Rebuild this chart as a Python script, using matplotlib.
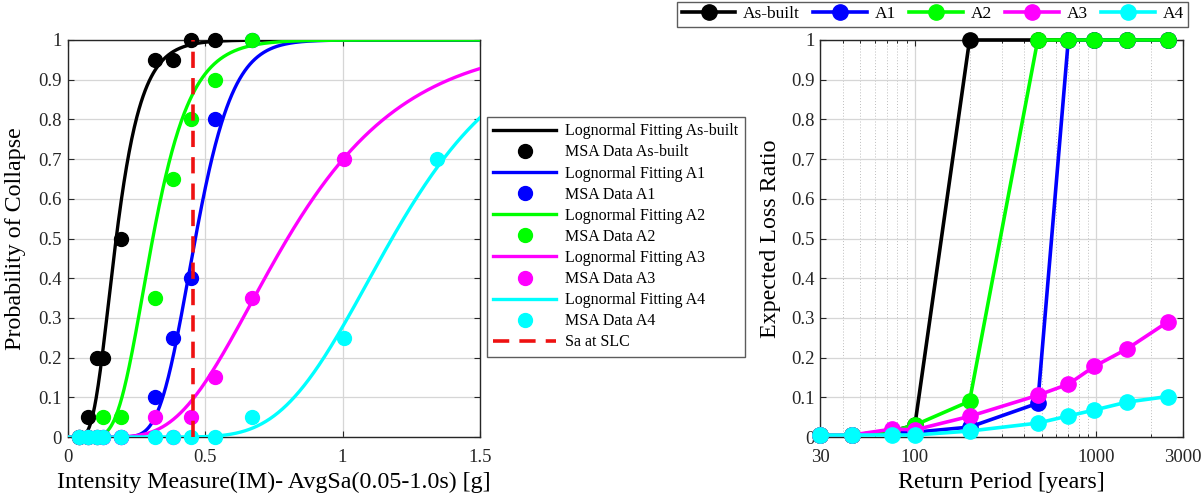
import math
import numpy as np
import matplotlib
matplotlib.use("Agg")
import matplotlib.pyplot as plt
from matplotlib.ticker import FixedLocator, FixedFormatter, NullFormatter

plt.rcParams['font.family'] = ['Liberation Serif', 'DejaVu Serif']

# ---------------- Data: left panel (fragility) ----------------
series_names = ["As-built", "A1", "A2", "A3", "A4"]
series_colors = ["#000000", "#0000ff", "#00ff00", "#ff00ff", "#00ffff"]

im_levels = [0.04, 0.075, 0.108, 0.13, 0.195, 0.318, 0.385, 0.45, 0.535, 0.67, 1.005, 1.343]
nan = float("nan")
msa_asbuilt = [0, 0.05, 0.2, 0.2, 0.5, 0.95, 0.95, 1.0, 1.0, nan, nan, nan]
msa_a1 = [0, 0, 0, 0, 0, 0.1, 0.25, 0.4, 0.8, 1.0, nan, nan]
msa_a2 = [0, 0, 0, 0.05, 0.05, 0.35, 0.65, 0.8, 0.9, 1.0, nan, nan]
msa_a3 = [0, 0, 0, 0, 0, 0.05, 0, 0.05, 0.15, 0.35, 0.7, nan]
msa_a4 = [0, 0, 0, 0, 0, 0, 0, 0, 0, 0.05, 0.25, 0.7]
msa_data = [msa_asbuilt, msa_a1, msa_a2, msa_a3, msa_a4]

fit_median = [0.177, 0.465, 0.31, 0.80, 1.18]
fit_beta = [0.41, 0.23, 0.35, 0.43, 0.28]

sa_slc = 0.455

# ---------------- Data: right panel (loss ratio) ----------------
return_periods = [30, 45, 75, 100, 200, 475, 700, 975, 1475, 2475]
elr_asbuilt = [0.005, 0.005, 0.015, 0.03, 1.0, 1.0, 1.0, 1.0, 1.0, 1.0]
elr_a1 = [0.005, 0.005, 0.012, 0.012, 0.025, 0.085, 1.0, 1.0, 1.0, 1.0]
elr_a2 = [0.005, 0.005, 0.015, 0.03, 0.09, 1.0, 1.0, 1.0, 1.0, 1.0]
elr_a3 = [0.005, 0.005, 0.02, 0.018, 0.052, 0.105, 0.133, 0.178, 0.222, 0.29]
elr_a4 = [0.005, 0.005, 0.005, 0.005, 0.015, 0.035, 0.053, 0.068, 0.088, 0.102]
elr_data = [elr_asbuilt, elr_a1, elr_a2, elr_a3, elr_a4]

x_ticks_left = [0, 0.5, 1, 1.5]
x_tick_labels_left = ["0", "0.5", "1", "1.5"]
y_ticks = [round(0.1 * i, 1) for i in range(11)]
y_tick_labels = ["0", "0.1", "0.2", "0.3", "0.4", "0.5", "0.6", "0.7", "0.8", "0.9", "1"]
x_ticks_right = [30, 100, 1000, 3000]
x_tick_labels_right = ["30", "100", "1000", "3000"]

# ---------------- Figure ----------------
W, H = 1201, 499
fig = plt.figure(figsize=(W / 100, H / 100), dpi=100)

def ax_rect(x0, y0, x1, y1):
    return [x0 / W, 1 - y1 / H, (x1 - x0) / W, (y1 - y0) / H]

grid_col = "#d6d6d6"
tick_fs = 13.5
label_fs = 17.3
leg_fs = 11.5

def lognorm_cdf(x, theta, beta):
    return np.array([0.5 * (1 + math.erf(math.log(v / theta) / (beta * math.sqrt(2)))) for v in x])

def style_axes(ax):
    ax.tick_params(direction="in", top=True, right=True, length=4, width=0.8,
                   labelsize=tick_fs, colors="#262626", pad=4)
    ax.tick_params(axis="x", pad=9)
    ax.tick_params(which="minor", direction="in", top=True, right=True, length=2, width=0.6)
    for sp in ax.spines.values():
        sp.set_color("#262626")
        sp.set_linewidth(1.0)

# Left panel
axL = fig.add_axes(ax_rect(67.5, 40, 480, 437))
xx = np.linspace(0.001, 1.5, 800)
handles = []
labels = []
for name, col, th, be, d in zip(series_names, series_colors, fit_median, fit_beta, msa_data):
    ln, = axL.plot(xx, lognorm_cdf(xx, th, be), color=col, lw=2.4, zorder=3)
    pts, = axL.plot(im_levels, d, "o", color=col, ms=10, ls="none", clip_on=False, zorder=4)
    handles += [ln, pts]
    labels += ["Lognormal Fitting " + name, "MSA Data " + name]
sl, = axL.plot([sa_slc, sa_slc], [0, 1], color="#ee1111", lw=2.6, ls=(0, (4.5, 2.8)), zorder=5)
handles.append(sl)
labels.append("Sa at SLC")

axL.set_xlim(0, 1.5)
axL.set_ylim(0, 1)
axL.xaxis.set_major_locator(FixedLocator(x_ticks_left))
axL.xaxis.set_major_formatter(FixedFormatter(x_tick_labels_left))
axL.yaxis.set_major_locator(FixedLocator(y_ticks))
axL.yaxis.set_major_formatter(FixedFormatter(y_tick_labels))
axL.grid(True, color=grid_col, lw=0.9)
axL.set_axisbelow(True)
style_axes(axL)
axL.set_xlabel("Intensity Measure(IM)- AvgSa(0.05-1.0s) [g]", fontsize=label_fs, labelpad=4)
axL.set_ylabel("Probability of Collapse", fontsize=label_fs, labelpad=9)

legL = fig.legend(handles, labels, loc="upper left", bbox_to_anchor=(487 / W, 1 - 117 / H),
                  fontsize=leg_fs, handlelength=3.9, labelspacing=0.32, frameon=True,
                  fancybox=False, edgecolor="#333333", borderpad=0.4, handletextpad=0.6,
                  borderaxespad=0)
legL.get_frame().set_linewidth(1.0)

# Right panel
axR = fig.add_axes(ax_rect(820, 40, 1183, 437))
rhandles = []
for name, col, d in zip(series_names, series_colors, elr_data):
    h, = axR.plot(return_periods, d, "-o", color=col, lw=2.6, ms=11, clip_on=False, zorder=3)
    rhandles.append(h)
axR.set_xscale("log")
axR.set_xlim(30, 3000)
axR.set_ylim(0, 1)
axR.xaxis.set_major_locator(FixedLocator(x_ticks_right))
axR.xaxis.set_major_formatter(FixedFormatter(x_tick_labels_right))
minor_ticks = [40, 50, 60, 70, 80, 90, 200, 300, 400, 500, 600, 700, 800, 900, 2000]
axR.xaxis.set_minor_locator(FixedLocator(minor_ticks))
axR.xaxis.set_minor_formatter(NullFormatter())
axR.yaxis.set_major_locator(FixedLocator(y_ticks))
axR.yaxis.set_major_formatter(FixedFormatter(y_tick_labels))
axR.grid(True, which="major", color=grid_col, lw=0.9)
axR.grid(True, which="minor", axis="x", color="#bdbdbd", lw=0.7, ls=(0, (1, 2)))
axR.set_axisbelow(True)
style_axes(axR)
axR.set_xlabel("Return Period [years]", fontsize=label_fs, labelpad=4)
axR.set_ylabel("Expected Loss Ratio", fontsize=label_fs, labelpad=7)

legR = fig.legend(rhandles, series_names, loc="upper right", bbox_to_anchor=(1188 / W, 1 - 2 / H),
                  ncol=5, fontsize=12.5, handlelength=3.1, columnspacing=0.75, handletextpad=0.45,
                  frameon=True, fancybox=False, edgecolor="#333333", borderpad=0.25, borderaxespad=0)
legR.get_frame().set_linewidth(1.0)

fig.savefig("out.png", dpi=100)
